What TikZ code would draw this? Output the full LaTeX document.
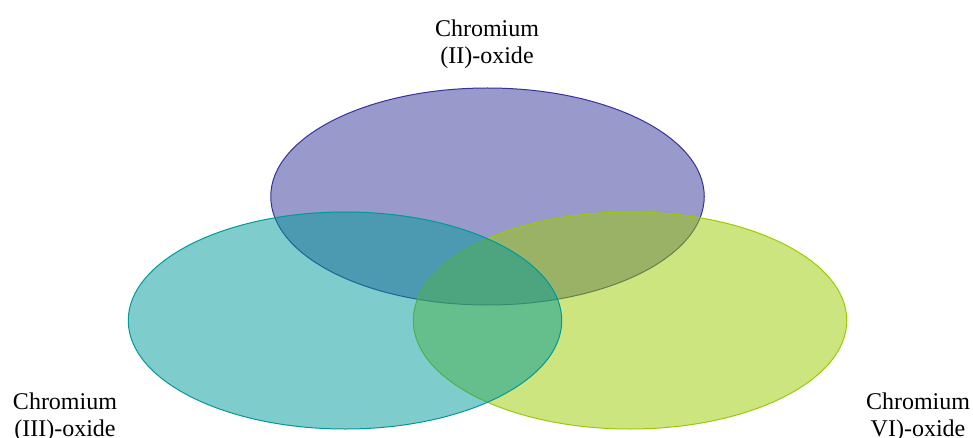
\documentclass[tikz,border=0pt]{standalone}
\usepackage{fontspec}
\setmainfont{Liberation Serif}
\usetikzlibrary{shapes.geometric}

\definecolor{cribase}{RGB}{51,51,153}
\definecolor{criiibase}{RGB}{0,153,153}
\definecolor{crvibase}{RGB}{153,204,0}

\tikzset{
  oxide/.style={draw, ellipse, inner sep=0pt, line width=0.5pt,
    fill opacity=0.5, draw opacity=1,
    minimum width=216.75pt, minimum height=108.5pt},
  label/.style={align=center, inner sep=0pt,
    font=\fontsize{12}{13.6}\selectfont}
}

\begin{document}
\begin{tikzpicture}[x=0.5pt,y=-0.5pt]
\useasboundingbox (0,0) rectangle (973,438);

\node[oxide, draw=cribase, fill=cribase] (cr2) at (487.5,196.5) {};
\node[oxide, draw=crvibase, fill=crvibase] (cr6) at (630,320.5) {};
\node[oxide, draw=criiibase, fill=criiibase] (cr3) at (345,320.5) {};

\node[label] (t2) at (487,44) {Chromium\\(II)-oxide};
\node[label] (t3) at (65,417) {Chromium\\(III)-oxide};
\node[label] (t6) at (918,417) {Chromium\\VI)-oxide};
\end{tikzpicture}
\end{document}
